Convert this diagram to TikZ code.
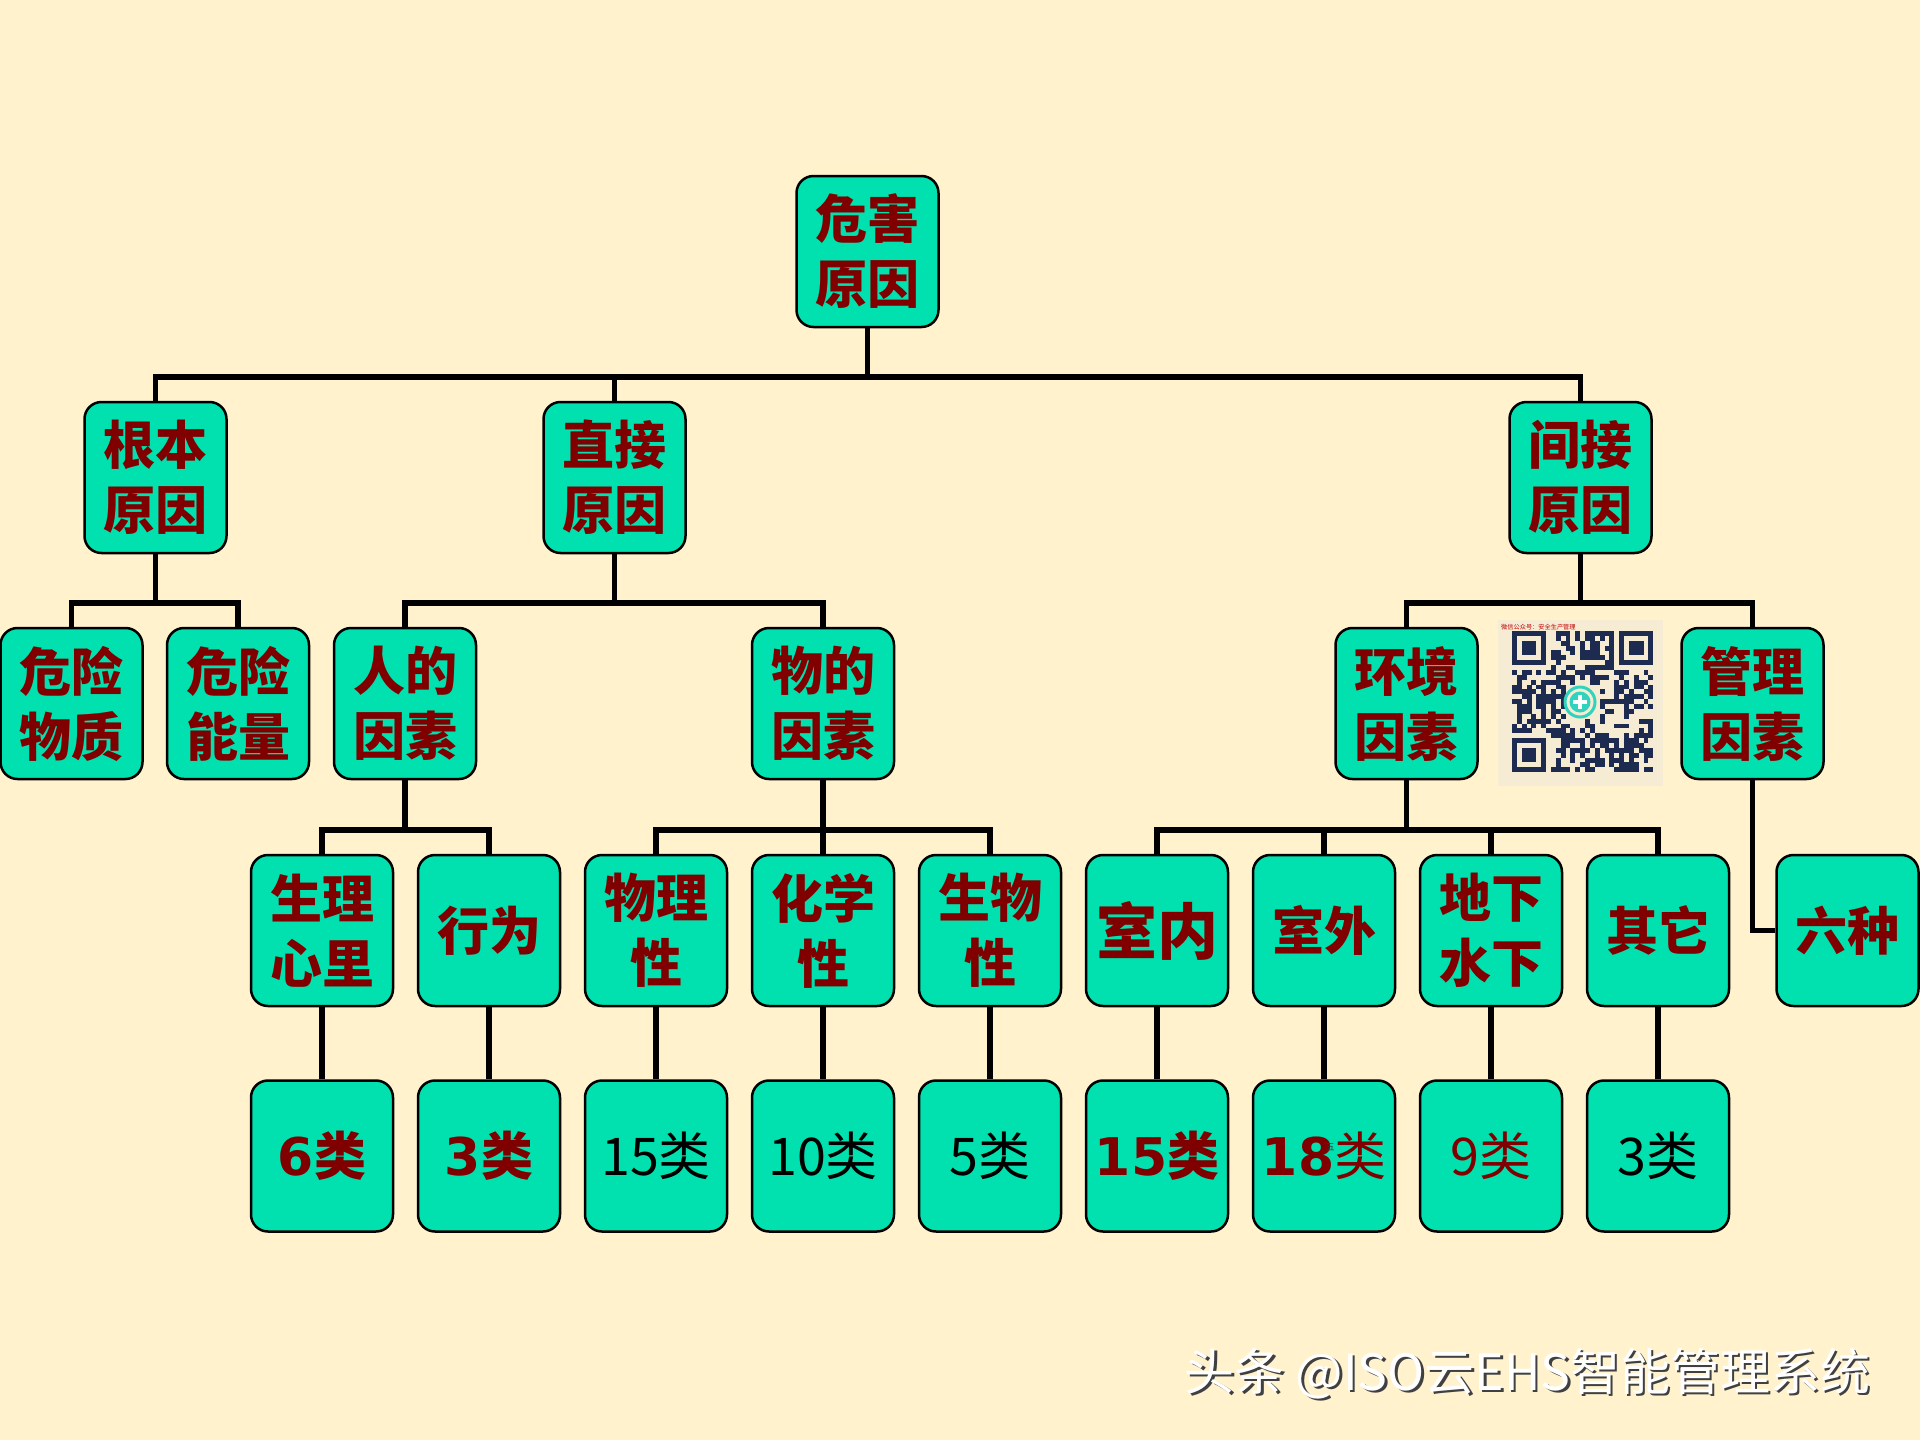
\documentclass[tikz,border=0pt]{standalone}
\usepackage{fontspec}
\newfontfamily\cjk{Noto Sans CJK SC}
\newfontfamily\dvs{DejaVu Sans}
\definecolor{bg}{HTML}{FFF2CC}
\definecolor{boxfill}{HTML}{00E1AF}
\definecolor{dred}{HTML}{800000}
\definecolor{qrnavy}{HTML}{1C2B4F}
\definecolor{qrbg}{HTML}{F6ECD4}
\definecolor{qrteal}{HTML}{2FD3BE}
\tikzset{
  box/.style={draw=black, line width=2.5pt, fill=boxfill, rounded corners=17pt,
    minimum width=142pt, minimum height=151pt, inner sep=0pt, align=center,
    text=dred, font=\cjk\bfseries\fontsize{52}{65}\selectfont},
  numreg/.style={font=\cjk\fontsize{52}{65}\selectfont},
  conn/.style={draw=black, line width=5.5pt, line join=miter, line cap=butt},
}
\begin{document}
\begin{tikzpicture}[x=1pt,y=-1pt]
\fill[bg] (0,0) rectangle (1920,1440);
\useasboundingbox (0,0) rectangle (1920,1440);

% level 0-2
\node[box] (root) at (867.5,251.5) {危害\\原因};
\node[box] (genben) at (155.5,477.5) {根本\\原因};
\node[box] (zhijie) at (614.5,477.5) {直接\\原因};
\node[box] (jianjie) at (1580.5,477.5) {间接\\原因};
\node[box] (wuzhi) at (71.5,703.5) {危险\\物质};
\node[box] (nengliang) at (238,703.5) {危险\\能量};
\node[box] (ren) at (405,703.5) {人的\\因素};
\node[box] (wu) at (823,703.5) {物的\\因素};
\node[box] (huanjing) at (1406.5,703.5) {环境\\因素};
\node[box] (guanli) at (1752.5,703.5) {管理\\因素};

% level 3
\node[box] (shengli) at (322,930.5) {生理\\心里};
\node[box] (xingwei) at (489,930.5) {行为};
\node[box] (wulixing) at (656,930.5) {物理\\性};
\node[box] (huaxue) at (823,930.5) {化学\\性};
\node[box] (shengwu) at (990,930.5) {生物\\性};
\node[box, font=\cjk\bfseries\fontsize{61}{65}\selectfont] (shinei) at (1157,930.5) {室内};
\node[box] (shiwai) at (1324,930.5) {室外};
\node[box] (dixia) at (1491,930.5) {地下\\水下};
\node[box] (qita) at (1658,930.5) {其它};
\node[box] (liuzhong) at (1847.5,930.5) {六种};

% level 4
\node[box] (n1) at (322,1156) {\dvs\bfseries 6\cjk 类};
\node[box] (n2) at (489,1156) {\dvs\bfseries 3\cjk 类};
\node[box, numreg, text=black] (n3) at (656,1156) {15类};
\node[box, numreg, text=black] (n4) at (823,1156) {10类};
\node[box, numreg, text=black] (n5) at (990,1156) {5类};
\node[box] (n6) at (1157,1156) {\dvs\bfseries 15\cjk 类};
\node[box] (n7) at (1324,1156) {\dvs\bfseries 18\cjk\mdseries 类};
\node[box, numreg] (n8) at (1491,1156) {9类};
\node[box, numreg, text=black] (n9) at (1658,1156) {3类};
\node[font=\cjk\fontsize{9}{9}\selectfont, text=black!80, inner sep=0pt] (tiny) at (1330,1147) {五};

% connectors
\coordinate (b0) at (0,377);
\coordinate (b1) at (0,603);
\coordinate (b2) at (0,830);
\draw[conn] (root.south) -- (root.south |- b0);
\draw[conn] (genben.north) -- (genben.north |- b0) -- (jianjie.north |- b0) -- (jianjie.north);
\draw[conn] (zhijie.north) -- (zhijie.north |- b0);

\draw[conn] (genben.south) -- (genben.south |- b1);
\draw[conn] (wuzhi.north) -- (wuzhi.north |- b1) -- (nengliang.north |- b1) -- (nengliang.north);
\draw[conn] (zhijie.south) -- (zhijie.south |- b1);
\draw[conn] (ren.north) -- (ren.north |- b1) -- (wu.north |- b1) -- (wu.north);
\draw[conn] (jianjie.south) -- (jianjie.south |- b1);
\draw[conn] (huanjing.north) -- (huanjing.north |- b1) -- (guanli.north |- b1) -- (guanli.north);

\draw[conn] (ren.south) -- (ren.south |- b2);
\draw[conn] (shengli.north) -- (shengli.north |- b2) -- (xingwei.north |- b2) -- (xingwei.north);
\draw[conn] (wu.south) -- (wu.south |- b2);
\draw[conn] (wulixing.north) -- (wulixing.north |- b2) -- (shengwu.north |- b2) -- (shengwu.north);
\draw[conn] (huaxue.north) -- (huaxue.north |- b2);
\draw[conn] (huanjing.south) -- (huanjing.south |- b2);
\draw[conn] (shinei.north) -- (shinei.north |- b2) -- (qita.north |- b2) -- (qita.north);
\draw[conn] (shiwai.north) -- (shiwai.north |- b2);
\draw[conn] (dixia.north) -- (dixia.north |- b2);
\draw[conn] (guanli.south) |- (liuzhong.west);

\draw[conn] (shengli.south) -- (n1.north);
\draw[conn] (xingwei.south) -- (n2.north);
\draw[conn] (wulixing.south) -- (n3.north);
\draw[conn] (huaxue.south) -- (n4.north);
\draw[conn] (shengwu.south) -- (n5.north);
\draw[conn] (shinei.south) -- (n6.north);
\draw[conn] (shiwai.south) -- (n7.north);
\draw[conn] (dixia.south) -- (n8.north);
\draw[conn] (qita.south) -- (n9.north);

% QR code image
\node[fill=qrbg, minimum width=165pt, minimum height=166pt, inner sep=0pt] (qr) at (1580.5,703) {};
\node[font=\cjk\fontsize{6.2}{6.2}\selectfont, text=red!75!black, anchor=west, inner sep=0pt] (qrtxt) at (1501,627) {微信公众号：安全生产管理};
\pgfmathsetseed{11}
\foreach \i in {0,...,28}{
  \foreach \j in {0,...,28}{
    \pgfmathtruncatemacro{\qskip}{((\i<8)&&(\j<8))||((\i>20)&&(\j<8))||((\i<8)&&(\j>20))||((\i>10)&&(\i<18)&&(\j>10)&&(\j<18))}
    \pgfmathtruncatemacro{\qon}{rnd<0.52}
    \ifnum\qskip=0 \ifnum\qon=1
      \fill[qrnavy] (1512+\i*4.87,631+\j*4.87) rectangle ++(4.9,4.9);
    \fi\fi
  }
}
\foreach \fx/\fy in {0/0,22/0,0/22}{
  \fill[qrnavy] (1512+\fx*4.87,631+\fy*4.87) rectangle ++(34.09,34.09);
  \fill[qrbg] (1512+\fx*4.87+4.87,631+\fy*4.87+4.87) rectangle ++(24.35,24.35);
  \fill[qrnavy] (1512+\fx*4.87+9.74,631+\fy*4.87+9.74) rectangle ++(14.61,14.61);
}
\draw[qrteal, line width=3pt] (1580,702) circle (15);
\fill[qrteal] (1580,702) circle (10.5);
\fill[white] (1577.8,695) rectangle (1582.2,709);
\fill[white] (1573,699.8) rectangle (1587,704.2);

% watermark
\node[font=\cjk\fontsize{50}{50}\selectfont, text=black!75, inner sep=0pt] (wms) at (1530,1376) {头条 @ISO云EHS智能管理系统};
\node[font=\cjk\fontsize{50}{50}\selectfont, text=white, inner sep=0pt] (wm) at (1527.5,1373.5) {头条 @ISO云EHS智能管理系统};
\end{tikzpicture}
\end{document}
